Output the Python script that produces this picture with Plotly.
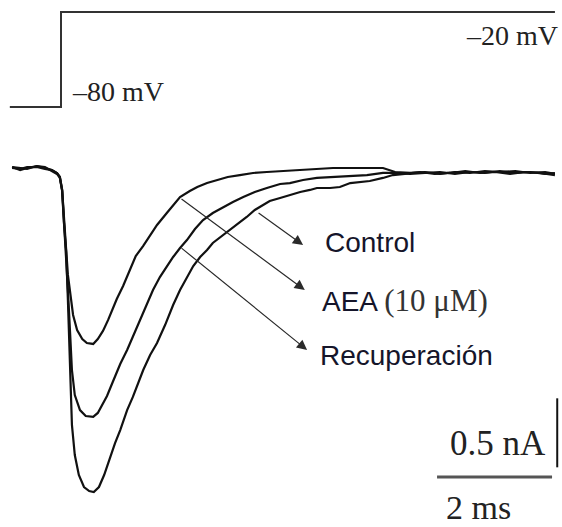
import plotly.graph_objects as go

# ---------------- data (ms, nA, mV) ----------------
protocol_t = [-0.89, 0.0, 0.0, 8.59]
protocol_mv = [-80, -80, -20, -20]

aea_t = [-0.85, -0.71, -0.59, -0.42, -0.28, -0.16, -0.07, -0.02, 0.02, 0.05, 0.09,
         0.12, 0.16, 0.21, 0.28, 0.37, 0.45, 0.56, 0.64, 0.73, 0.82, 0.90, 0.97,
         1.08, 1.20, 1.30, 1.43, 1.55, 1.67, 1.84, 1.98, 2.07, 2.24, 2.37, 2.54,
         2.71, 2.90, 3.11, 3.34, 3.58, 3.86, 4.16, 4.45, 4.73, 5.03, 5.32, 5.60,
         5.81, 6.07, 6.33, 6.59, 6.85, 7.11, 7.37, 7.63, 7.90, 8.16, 8.42, 8.59]
aea_i = [0.036, 0.014, 0.029, 0.043, 0.029, 0.014, -0.007, -0.036, -0.130, -0.348, -0.565,
         -0.746, -0.891, -1.036, -1.145, -1.210, -1.239, -1.246, -1.210, -1.152, -1.072, -0.986, -0.920,
         -0.826, -0.710, -0.609, -0.536, -0.464, -0.384, -0.297, -0.225, -0.181, -0.138, -0.109, -0.080,
         -0.058, -0.036, -0.022, -0.007, 0.000, 0.007, 0.014, 0.022, 0.029, 0.029, 0.029, 0.029,
         0.000, -0.007, 0.000, -0.014, 0.000, -0.007, 0.007, 0.000, 0.007, -0.007, 0.000, -0.014]

rec_t = [-0.85, -0.71, -0.59, -0.42, -0.28, -0.16, -0.07, -0.02, 0.02, 0.05, 0.09,
         0.12, 0.16, 0.19, 0.24, 0.33, 0.43, 0.56, 0.64, 0.73, 0.80, 0.90, 1.03,
         1.15, 1.25, 1.37, 1.50, 1.60, 1.72, 1.84, 1.95, 2.07, 2.19, 2.33, 2.47,
         2.64, 2.82, 2.99, 3.17, 3.37, 3.58, 3.81, 3.98, 4.21, 4.45, 4.73, 5.03,
         5.32, 5.60, 5.81, 6.07, 6.33, 6.59, 6.85, 7.11, 7.37, 7.63, 7.90, 8.16,
         8.42, 8.59]
rec_i = [0.029, 0.022, 0.036, 0.036, 0.022, 0.014, -0.007, -0.036, -0.130, -0.348, -0.565,
         -0.855, -1.181, -1.435, -1.616, -1.725, -1.768, -1.775, -1.746, -1.674, -1.623, -1.522, -1.391,
         -1.290, -1.196, -1.072, -0.957, -0.855, -0.761, -0.681, -0.616, -0.551, -0.493, -0.413, -0.348,
         -0.297, -0.254, -0.217, -0.181, -0.145, -0.116, -0.087, -0.080, -0.058, -0.043, -0.036, -0.029,
         -0.022, -0.007, -0.007, -0.014, -0.007, 0.000, -0.014, 0.000, -0.007, 0.007, -0.007, 0.000,
         -0.014, -0.007]

ctl_t = [-0.85, -0.71, -0.59, -0.42, -0.28, -0.16, -0.07, -0.02, 0.02, 0.05, 0.09,
         0.12, 0.16, 0.19, 0.24, 0.31, 0.40, 0.49, 0.57, 0.66, 0.75, 0.85, 0.94,
         1.03, 1.15, 1.25, 1.34, 1.43, 1.55, 1.67, 1.81, 1.95, 2.07, 2.19, 2.30,
         2.42, 2.54, 2.64, 2.80, 2.94, 3.08, 3.23, 3.37, 3.51, 3.63, 3.81, 3.98,
         4.16, 4.33, 4.45, 4.68, 4.85, 5.03, 5.20, 5.37, 5.60, 5.77, 5.98, 6.24,
         6.50, 6.77, 7.03, 7.29, 7.55, 7.81, 8.07, 8.33, 8.59]
ctl_i = [0.036, 0.029, 0.022, 0.043, 0.036, 0.007, -0.014, -0.043, -0.138, -0.362, -0.580,
         -0.928, -1.435, -1.833, -2.051, -2.196, -2.283, -2.312, -2.319, -2.283, -2.196, -2.065, -1.964,
         -1.870, -1.725, -1.630, -1.529, -1.435, -1.326, -1.239, -1.109, -0.964, -0.855, -0.761, -0.681,
         -0.616, -0.565, -0.514, -0.464, -0.420, -0.370, -0.326, -0.275, -0.239, -0.210, -0.188, -0.167,
         -0.145, -0.130, -0.116, -0.116, -0.109, -0.080, -0.072, -0.065, -0.043, -0.022, -0.014, 0.000,
         -0.014, -0.007, 0.007, -0.007, 0.000, -0.014, 0.000, -0.007, -0.022]

labels = ["Control",
          "AEA <span style='font-family:Liberation Serif, Times New Roman, serif; font-size:31px; fill:#333333'>(10 μM)</span>",
          "Recuperación"]
scale_time_ms = 2
scale_current_na = 0.5
volt_labels = ["–80 mV", "–20 mV"]

# ---------------- figure ----------------
W, H = 562, 527
X_RANGE = [-1.0609, 8.713]
Y_RANGE = [-2.5725, 1.2464]
Y2_RANGE = [-345.3, -12.42]

fig = go.Figure()
fig.add_trace(go.Scatter(x=protocol_t, y=protocol_mv, mode="lines", yaxis="y2",
                         line=dict(color="#333333", width=2), hoverinfo="skip"))
for t, i in [(aea_t, aea_i), (rec_t, rec_i), (ctl_t, ctl_i)]:
    fig.add_trace(go.Scatter(x=t, y=i, mode="lines",
                             line=dict(color="#111111", width=2.2), hoverinfo="skip"))

# scale bars
sb_x0, sb_y0 = 6.54, -2.21
fig.add_trace(go.Scatter(x=[sb_x0, sb_x0 + scale_time_ms], y=[sb_y0, sb_y0], mode="lines",
                         line=dict(color="#555555", width=3), hoverinfo="skip"))
vb_x, vb_y0 = 8.63, -2.14
fig.add_trace(go.Scatter(x=[vb_x, vb_x], y=[vb_y0, vb_y0 + scale_current_na], mode="lines",
                         line=dict(color="#111111", width=2), hoverinfo="skip"))

sans = "Liberation Sans, Arial, sans-serif"
serif = "Liberation Serif, Times New Roman, serif"
txtcol = "#15152a"

# arrows: (tail t, tail I, tip t, tip I)
arrows = [(3.41, -0.290, 4.21, -0.529),
          (2.07, -0.188, 4.24, -0.855),
          (2.07, -0.543, 4.28, -1.290)]
for (x0, y0, x1, y1) in arrows:
    fig.add_annotation(x=x1, y=y1, ax=x0, ay=y0, xref="x", yref="y", axref="x", ayref="y",
                       showarrow=True, arrowhead=2, arrowsize=1.7, arrowwidth=1.2,
                       arrowcolor="#2a2a2a", text="")

label_pos = [(4.56, -0.514), (4.51, -0.928), (4.47, -1.33)]
for txt, (x, y) in zip(labels, label_pos):
    fig.add_annotation(x=x, y=y, xref="x", yref="y", text=txt, showarrow=False,
                       xanchor="left", yanchor="middle",
                       font=dict(family=sans, size=28, color=txtcol))

fig.add_annotation(x=0.16, y=-70.5, xref="x", yref="y2", text=volt_labels[0], showarrow=False,
                   xanchor="left", yanchor="middle", font=dict(family=serif, size=28, color="#222222"))
fig.add_annotation(x=8.67, y=-34.8, xref="x", yref="y2", text=volt_labels[1], showarrow=False,
                   xanchor="right", yanchor="middle", font=dict(family=serif, size=28, color="#222222"))
fig.add_annotation(x=8.47, y=-1.971, xref="x", yref="y", text=f"{scale_current_na} nA", showarrow=False,
                   xanchor="right", yanchor="middle", font=dict(family=serif, size=35, color="#222222"))
fig.add_annotation(x=6.66, y=-2.43, xref="x", yref="y", text=f"{scale_time_ms} ms", showarrow=False,
                   xanchor="left", yanchor="middle", font=dict(family=serif, size=34, color="#222222"))

fig.update_layout(
    width=W, height=H, margin=dict(l=0, r=0, t=0, b=0),
    paper_bgcolor="white", plot_bgcolor="white", showlegend=False,
    xaxis=dict(range=X_RANGE, visible=False, fixedrange=True),
    yaxis=dict(range=Y_RANGE, visible=False, fixedrange=True),
    yaxis2=dict(range=Y2_RANGE, visible=False, overlaying="y", fixedrange=True),
)

fig.write_html("out.html", config={"displayModeBar": False},
               post_script="document.body.style.margin='0';document.body.style.overflow='hidden';")
